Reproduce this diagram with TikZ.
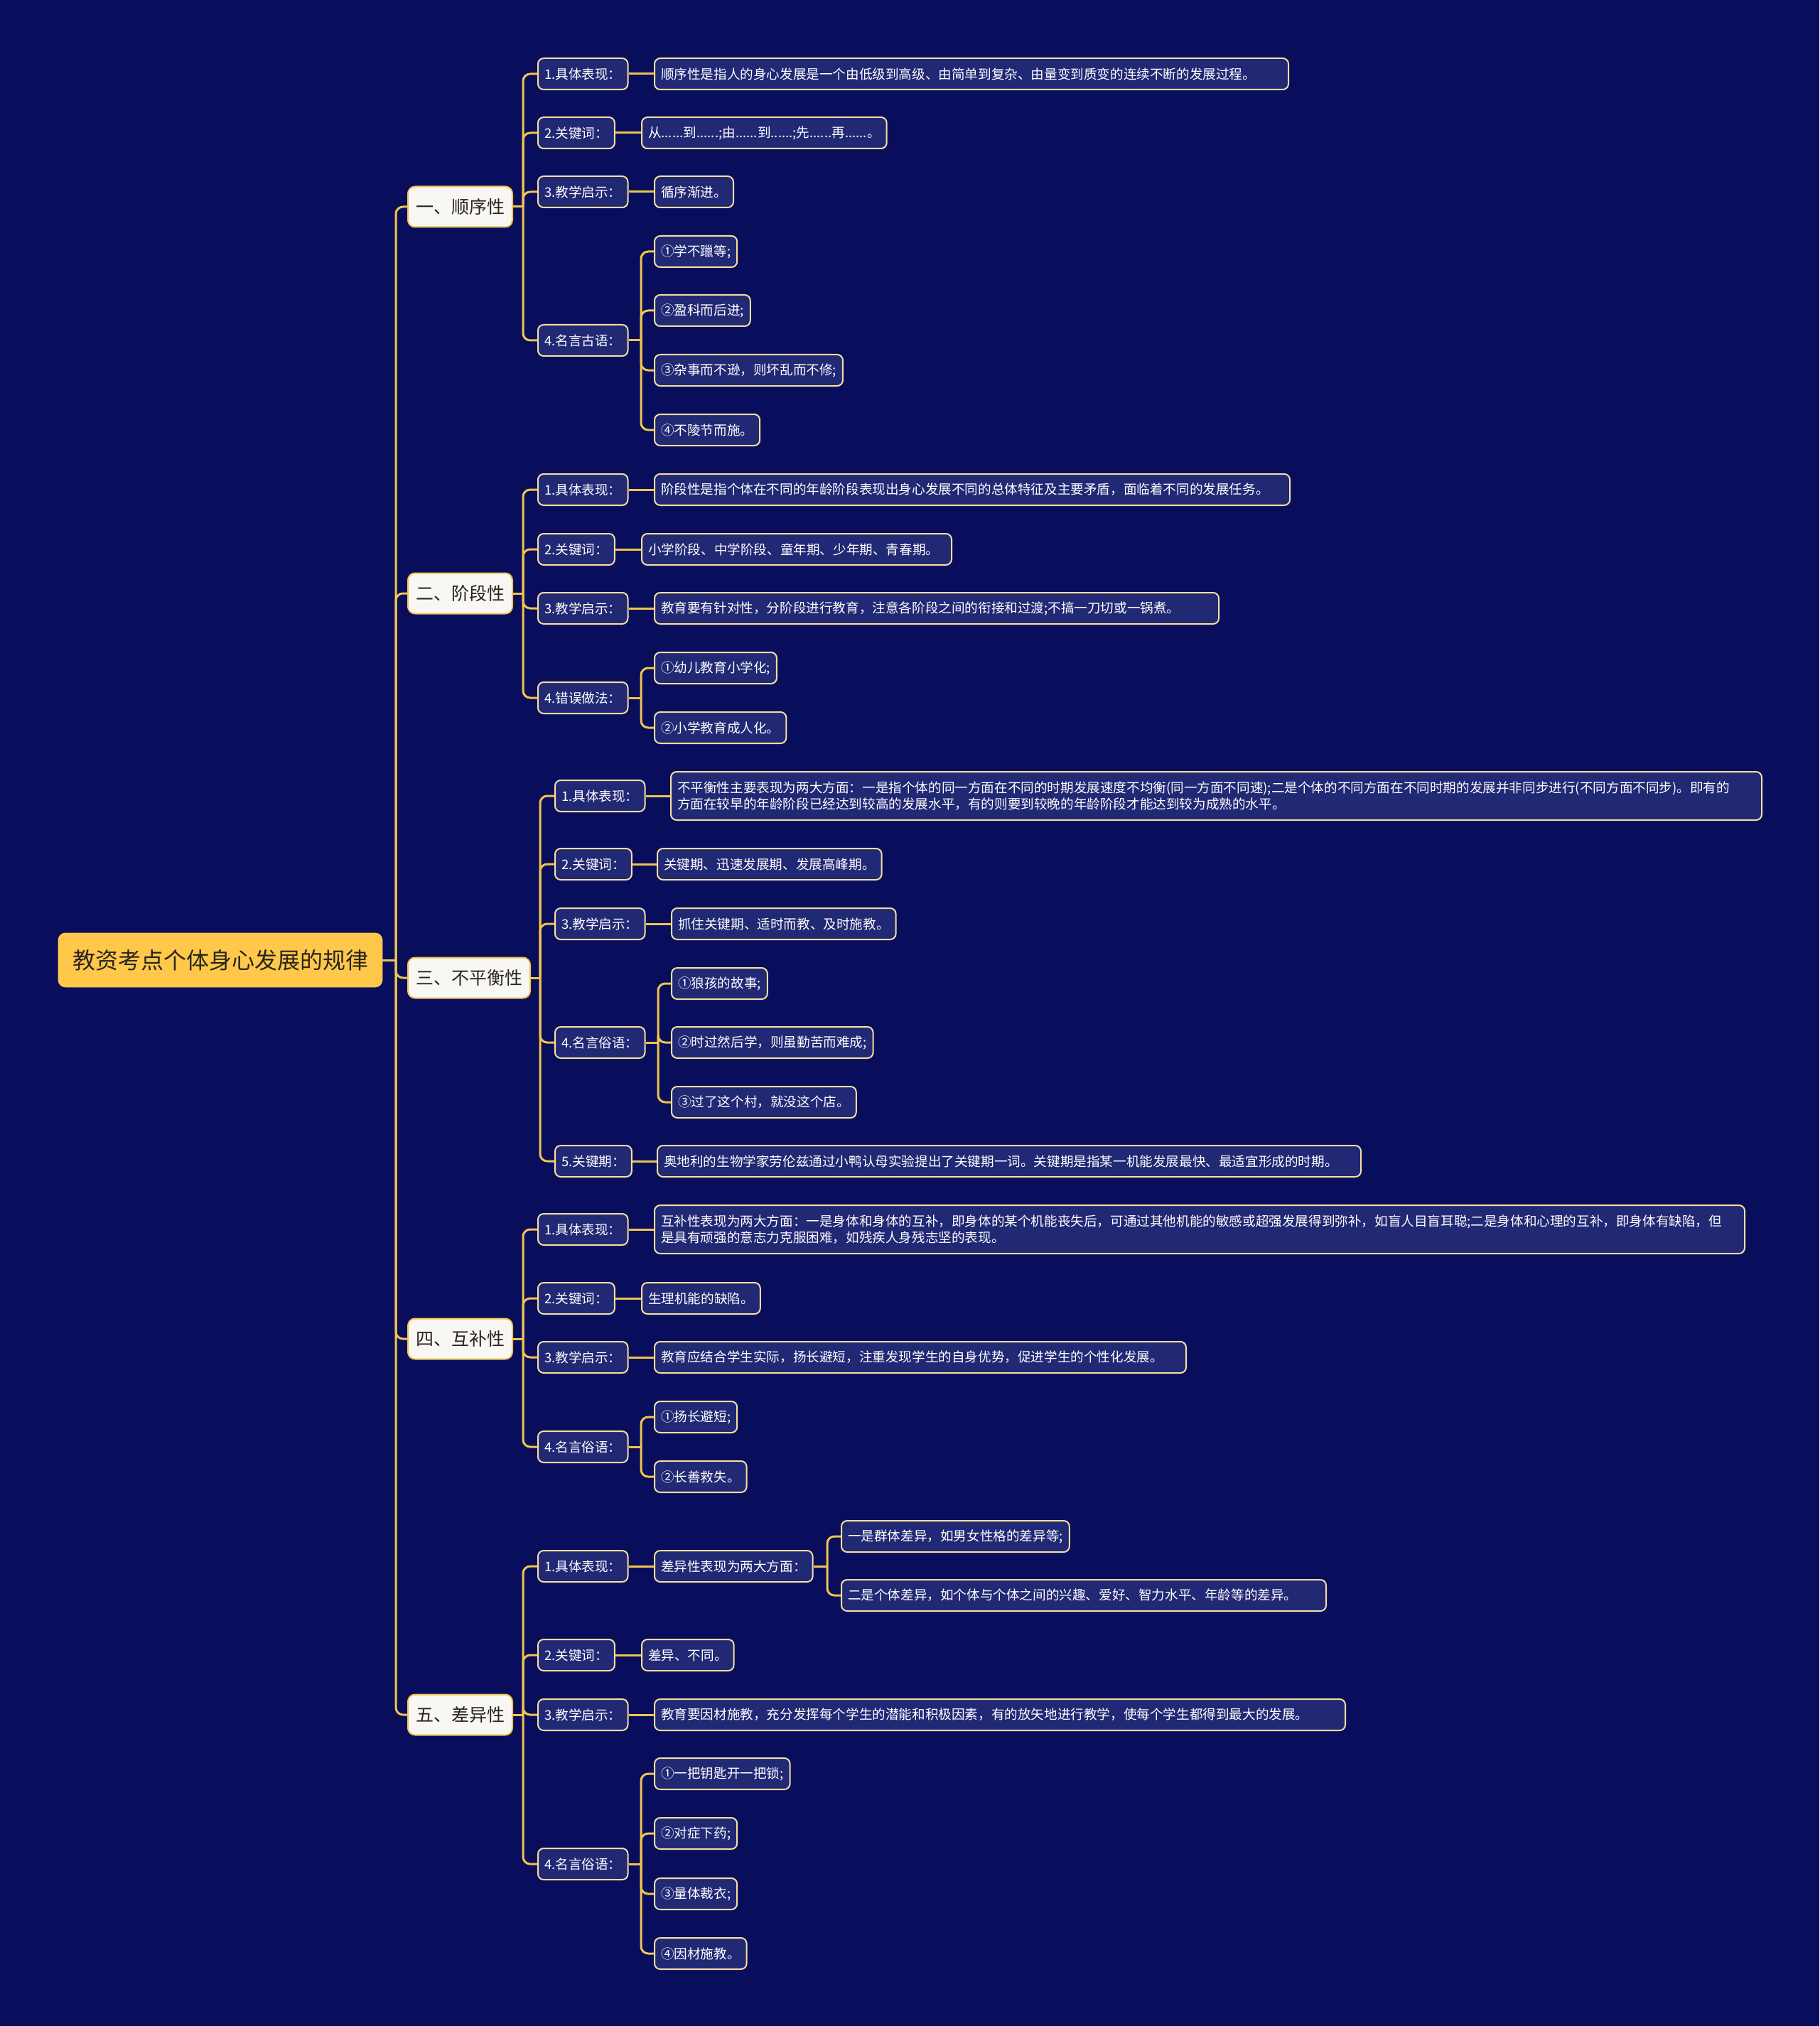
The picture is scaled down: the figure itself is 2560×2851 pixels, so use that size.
\documentclass[tikz,border=0pt]{standalone}
\usepackage{fontspec}
\setmainfont{Noto Sans CJK SC}
\XeTeXlinebreaklocale "zh"
\usetikzlibrary{positioning}
\definecolor{bgnavy}{RGB}{9,14,92}
\definecolor{boxnavy}{RGB}{33,40,116}
\definecolor{linegold}{RGB}{240,196,80}
\definecolor{rootgold}{RGB}{255,200,74}
\definecolor{edgecream}{RGB}{245,222,160}
\definecolor{topicwhite}{RGB}{248,247,243}
\definecolor{inkdark}{RGB}{40,36,30}
\tikzset{
  rootbox/.style={draw=rootgold, fill=rootgold, rounded corners=5pt, text=inkdark,
    font=\fontsize{16}{19}\selectfont, inner xsep=10pt, minimum height=38pt},
  topicbox/.style={draw=linegold, line width=1pt, fill=topicwhite, rounded corners=5pt,
    text=inkdark, font=\fontsize{12.5}{15}\selectfont, inner xsep=5.5pt,
    minimum height=28.5pt, anchor=west},
  itembox/.style={draw=edgecream, line width=1pt, fill=boxnavy, rounded corners=4pt,
    text=white, font=\fontsize{9.3}{11.5}\selectfont, inner xsep=4.5pt, inner ysep=3pt,
    minimum height=22pt, anchor=west},
  wide/.style={text width=#1, align=left},
  conn/.style={draw=linegold, line width=1.5pt, rounded corners=5pt},
}
\begin{document}
\begin{tikzpicture}[x=0.5pt, y=-0.5pt]
  \fill[bgnavy] (0,0) rectangle (2560,2851);
  \useasboundingbox (0,0) rectangle (2560,2851);
  % root and main topics
  \node[rootbox] (root) at (310,1351) {教资考点个体身心发展的规律};
  \node[topicbox] (s1) at (573,291) {一、顺序性};
  \node[topicbox] (s2) at (573,835) {二、阶段性};
  \node[topicbox] (s3) at (573,1376) {三、不平衡性};
  \node[topicbox] (s4) at (573,1884) {四、互补性};
  \node[topicbox] (s5) at (573,2413) {五、差异性};
  % 一
  \node[itembox] (s1a) at (756,104) {1.具体表现：};
  \node[itembox, wide=437pt] (s1a1) at (920,104) {顺序性是指人的身心发展是一个由低级到高级、由简单到复杂、由量变到质变的连续不断的发展过程。};
  \node[itembox] (s1b) at (756,187) {2.关键词：};
  \node[itembox] (s1b1) at (902,187) {从......到......;由......到......;先......再......。};
  \node[itembox] (s1c) at (756,270) {3.教学启示：};
  \node[itembox] (s1c1) at (920,270) {循序渐进。};
  \node[itembox] (s1d) at (756,479) {4.名言古语：};
  \node[itembox] (s1d1) at (920,354) {①学不躐等;};
  \node[itembox] (s1d2) at (920,437) {②盈科而后进;};
  \node[itembox] (s1d3) at (920,521) {③杂事而不逊，则坏乱而不修;};
  \node[itembox] (s1d4) at (920,605) {④不陵节而施。};
  % 二
  \node[itembox] (s2a) at (756,689) {1.具体表现：};
  \node[itembox, wide=438pt] (s2a1) at (920,689) {阶段性是指个体在不同的年龄阶段表现出身心发展不同的总体特征及主要矛盾，面临着不同的发展任务。};
  \node[itembox] (s2b) at (756,773) {2.关键词：};
  \node[itembox, wide=209pt] (s2b1) at (902,773) {小学阶段、中学阶段、童年期、少年期、青春期。};
  \node[itembox] (s2c) at (756,856) {3.教学启示：};
  \node[itembox, wide=388pt] (s2c1) at (920,856) {教育要有针对性，分阶段进行教育，注意各阶段之间的衔接和过渡;不搞一刀切或一锅煮。};
  \node[itembox] (s2d) at (756,982) {4.错误做法：};
  \node[itembox] (s2d1) at (920,940) {①幼儿教育小学化;};
  \node[itembox] (s2d2) at (920,1024) {②小学教育成人化。};
  % 三
  \node[itembox] (s3a) at (780,1120) {1.具体表现：};
  \node[itembox, wide=758.5pt, minimum height=34pt] (s3a1) at (943,1120) {不平衡性主要表现为两大方面：一是指个体的同一方面在不同的时期发展速度不均衡(同一方面不同速);二是个体的不同方面在不同时期的发展并非同步进行(不同方面不同步)。即有的\\方面在较早的年龄阶段已经达到较高的发展水平，有的则要到较晚的年龄阶段才能达到较为成熟的水平。};
  \node[itembox] (s3b) at (780,1216) {2.关键词：};
  \node[itembox] (s3b1) at (924,1216) {关键期、迅速发展期、发展高峰期。};
  \node[itembox] (s3c) at (780,1300) {3.教学启示：};
  \node[itembox] (s3c1) at (944,1300) {抓住关键期、适时而教、及时施教。};
  \node[itembox] (s3d) at (780,1467) {4.名言俗语：};
  \node[itembox] (s3d1) at (944,1384) {①狼孩的故事;};
  \node[itembox] (s3d2) at (944,1467) {②时过然后学，则虽勤苦而难成;};
  \node[itembox] (s3d3) at (944,1551) {③过了这个村，就没这个店。};
  \node[itembox] (s3e) at (780,1634) {5.关键期：};
  \node[itembox, wide=486pt] (s3e1) at (924,1634) {奥地利的生物学家劳伦兹通过小鸭认母实验提出了关键期一词。关键期是指某一机能发展最快、最适宜形成的时期。};
  % 四
  \node[itembox] (s4a) at (756,1730) {1.具体表现：};
  \node[itembox, wide=758pt, minimum height=34pt] (s4a1) at (920,1730) {互补性表现为两大方面：一是身体和身体的互补，即身体的某个机能丧失后，可通过其他机能的敏感或超强发展得到弥补，如盲人目盲耳聪;二是身体和心理的互补，即身体有缺陷，但\\是具有顽强的意志力克服困难，如残疾人身残志坚的表现。};
  \node[itembox] (s4b) at (756,1827) {2.关键词：};
  \node[itembox] (s4b1) at (902,1827) {生理机能的缺陷。};
  \node[itembox] (s4c) at (756,1910) {3.教学启示：};
  \node[itembox, wide=365pt] (s4c1) at (920,1910) {教育应结合学生实际，扬长避短，注重发现学生的自身优势，促进学生的个性化发展。};
  \node[itembox] (s4d) at (756,2036) {4.名言俗语：};
  \node[itembox] (s4d1) at (920,1994) {①扬长避短;};
  \node[itembox] (s4d2) at (920,2078) {②长善救失。};
  % 五
  \node[itembox] (s5a) at (756,2204) {1.具体表现：};
  \node[itembox] (s5a1) at (920,2204) {差异性表现为两大方面：};
  \node[itembox] (s5a11) at (1183,2162) {一是群体差异，如男女性格的差异等;};
  \node[itembox, wide=332pt] (s5a12) at (1183,2245) {二是个体差异，如个体与个体之间的兴趣、爱好、智力水平、年龄等的差异。};
  \node[itembox] (s5b) at (756,2329) {2.关键词：};
  \node[itembox] (s5b1) at (902,2329) {差异、不同。};
  \node[itembox] (s5c) at (756,2413) {3.教学启示：};
  \node[itembox, wide=477pt] (s5c1) at (920,2413) {教育要因材施教，充分发挥每个学生的潜能和积极因素，有的放矢地进行教学，使每个学生都得到最大的发展。};
  \node[itembox] (s5d) at (756,2623) {4.名言俗语：};
  \node[itembox] (s5d1) at (920,2496) {①一把钥匙开一把锁;};
  \node[itembox] (s5d2) at (920,2580) {②对症下药;};
  \node[itembox] (s5d3) at (920,2665) {③量体裁衣;};
  \node[itembox] (s5d4) at (920,2749) {④因材施教。};
  % junctions
  \coordinate (j0) at (557,1351);
  \coordinate (j1) at (736,291);
  \coordinate (j2) at (736,835);
  \coordinate (j3) at (760,1376);
  \coordinate (j4) at (736,1884);
  \coordinate (j5) at (736,2413);
  \coordinate (j1d) at (902,479);
  \coordinate (j2d) at (902,982);
  \coordinate (j3d) at (926,1467);
  \coordinate (j4d) at (902,2036);
  \coordinate (j5a) at (1164,2204);
  \coordinate (j5d) at (902,2623);
  % connectors
  \draw[conn] (root.east) -- (j0);
  \foreach \t in {s1,s2,s3,s4,s5}
    \draw[conn] (j0) |- (\t.west);
  \foreach \p/\j in {s1/j1,s2/j2,s3/j3,s4/j4,s5/j5,s1d/j1d,s2d/j2d,s3d/j3d,s4d/j4d,s5a1/j5a,s5d/j5d}
    \draw[conn] (\p.east) -- (\j);
  \foreach \t in {s1a,s1b,s1c,s1d} \draw[conn] (j1) |- (\t.west);
  \foreach \t in {s2a,s2b,s2c,s2d} \draw[conn] (j2) |- (\t.west);
  \foreach \t in {s3a,s3b,s3c,s3d,s3e} \draw[conn] (j3) |- (\t.west);
  \foreach \t in {s4a,s4b,s4c,s4d} \draw[conn] (j4) |- (\t.west);
  \foreach \t in {s5a,s5b,s5c,s5d} \draw[conn] (j5) |- (\t.west);
  \foreach \t in {s1d1,s1d2,s1d3,s1d4} \draw[conn] (j1d) |- (\t.west);
  \foreach \t in {s2d1,s2d2} \draw[conn] (j2d) |- (\t.west);
  \foreach \t in {s3d1,s3d2,s3d3} \draw[conn] (j3d) |- (\t.west);
  \foreach \t in {s4d1,s4d2} \draw[conn] (j4d) |- (\t.west);
  \foreach \t in {s5a11,s5a12} \draw[conn] (j5a) |- (\t.west);
  \foreach \t in {s5d1,s5d2,s5d3,s5d4} \draw[conn] (j5d) |- (\t.west);
  \foreach \a/\b in {s1a/s1a1,s1b/s1b1,s1c/s1c1,s2a/s2a1,s2b/s2b1,s2c/s2c1,s3a/s3a1,s3b/s3b1,s3c/s3c1,s3e/s3e1,s4a/s4a1,s4b/s4b1,s4c/s4c1,s5a/s5a1,s5b/s5b1,s5c/s5c1}
    \draw[conn] (\a.east) -- (\b.west);
\end{tikzpicture}
\end{document}
